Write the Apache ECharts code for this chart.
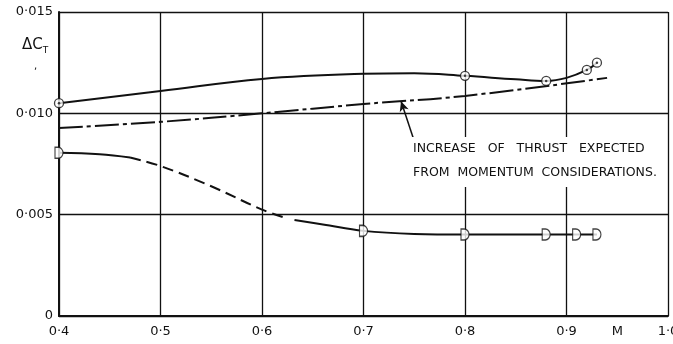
<!DOCTYPE html>
<html>
<head>
<meta charset="utf-8">
<script src="https://cdn.jsdelivr.net/npm/echarts@6/dist/echarts.min.js"></script>
<style>
html, body { margin: 0; padding: 0; background: #fff; }
#chart { width: 673px; height: 344px; }
</style>
</head>
<body>
<div id="chart"></div>
<script>
// measured thrust increment, upper curve (circles)
var upperCurve = [[0.4, 0.0105], [0.5, 0.0111], [0.6, 0.0117], [0.7, 0.01195], [0.75, 0.01198],
    [0.8, 0.01185], [0.85, 0.01168], [0.88, 0.0116], [0.9, 0.01175], [0.92, 0.01214], [0.93, 0.0125]];
var upperPoints = [[0.4, 0.0105], [0.8, 0.01185], [0.88, 0.0116], [0.92, 0.01214], [0.93, 0.0125]];

// momentum estimate (dash-dot)
var momentumLine = [[0.4, 0.00928], [0.5, 0.00958], [0.6, 0.0100], [0.7, 0.01046], [0.8, 0.01086], [0.94, 0.01175]];

// lower curve (D markers), solid / dashed / solid
var lowerA = [[0.4, 0.00805], [0.44, 0.00798], [0.47, 0.00782]];
var lowerB = [[0.47, 0.00782], [0.5, 0.0074], [0.55, 0.0064], [0.6, 0.00525], [0.623, 0.00484]];
var lowerC = [[0.632, 0.00474], [0.66, 0.00452], [0.7, 0.0042], [0.75, 0.00405], [0.8, 0.00402], [0.93, 0.00402]];
var lowerPoints = [[0.4, 0.00805], [0.7, 0.0042], [0.8, 0.00402], [0.88, 0.00402], [0.91, 0.00402], [0.93, 0.00402]];

var yTicks = [0, 0.005, 0.010, 0.015];
var xTicks = [0.4, 0.5, 0.6, 0.7, 0.8, 0.9, 1.0];

var ink = '#111';
var font = 'DejaVu Sans';
var dShape = 'path://M0,0 L4,0 A6,6 0 0 1 4,12 L0,12 Z';

var myChart = echarts.init(document.getElementById('chart'));

function lineSeries(data, type) {
    return {
        type: 'line',
        data: data,
        smooth: 0.4,
        showSymbol: false,
        silent: true,
        lineStyle: { color: ink, width: 2, type: type || 'solid' },
        z: 3
    };
}

var option = {
    animation: false,
    backgroundColor: '#fff',
    grid: { left: 59, right: 5, top: 12, bottom: 28, containLabel: false, outerBoundsMode: 'none' },
    xAxis: [{
        type: 'value',
        min: 0.4,
        max: 1.0,
        interval: 0.1,
        axisLine: { show: true, lineStyle: { color: ink, width: 2 } },
        axisTick: { show: false },
        splitLine: { show: true, lineStyle: { color: ink, width: 1.3 } },
        axisLabel: {
            margin: 9,
            color: ink,
            fontFamily: font,
            fontSize: 13,
            formatter: function (v) {
                for (var i = 0; i < xTicks.length; i++) {
                    if (Math.abs(v - xTicks[i]) < 1e-6) return xTicks[i].toFixed(1).replace('.', '·');
                }
                return '';
            }
        }
    }, {
        type: 'value',
        position: 'bottom',
        min: 0.4,
        max: 1.0,
        interval: 0.05,
        axisLine: { show: false },
        axisTick: { show: false },
        splitLine: { show: false },
        axisLabel: {
            margin: 9,
            color: ink,
            fontFamily: font,
            fontSize: 13,
            formatter: function (v) {
                return Math.abs(v - 0.95) < 1e-6 ? 'M' : '';
            }
        }
    }],
    yAxis: {
        type: 'value',
        min: 0,
        max: 0.015,
        interval: 0.005,
        axisLine: { show: true, lineStyle: { color: ink, width: 2 } },
        axisTick: { show: false },
        splitLine: { show: true, lineStyle: { color: ink, width: 1.3 } },
        axisLabel: {
            margin: 6,
            color: ink,
            fontFamily: font,
            fontSize: 13,
            formatter: function (v) {
                for (var i = 0; i < yTicks.length; i++) {
                    if (Math.abs(v - yTicks[i]) < 1e-9) {
                        return yTicks[i] === 0 ? '0' : yTicks[i].toFixed(3).replace('.', '·');
                    }
                }
                return '';
            }
        }
    },
    series: [
        lineSeries(upperCurve),
        lineSeries(momentumLine, [24, 4, 4, 4]),
        lineSeries(lowerA),
        lineSeries(lowerB, [11, 6]),
        lineSeries(lowerC),
        {
            type: 'scatter',
            data: upperPoints,
            symbol: 'circle',
            symbolSize: 9,
            silent: true,
            itemStyle: { color: '#fff', borderColor: ink, borderWidth: 1.3 },
            z: 5
        },
        {
            type: 'scatter',
            data: upperPoints,
            symbol: 'circle',
            symbolSize: 2.5,
            silent: true,
            itemStyle: { color: ink },
            z: 6
        },
        {
            type: 'scatter',
            data: lowerPoints,
            symbol: dShape,
            symbolSize: [8, 11],
            silent: true,
            itemStyle: { color: '#fff', borderColor: ink, borderWidth: 1.3 },
            z: 5
        },
        {
            // arrow from the note to the momentum line
            type: 'line',
            data: [],
            silent: true,
            markLine: {
                silent: true,
                symbol: ['none', 'arrow'],
                symbolSize: [7, 10],
                label: { show: false },
                lineStyle: { color: ink, width: 1.5, type: 'solid' },
                data: [[{ coord: [0.749, 0.00878] }, { coord: [0.737, 0.0106] }]]
            },
            z: 8
        }
    ],
    graphic: [
        {
            type: 'text',
            left: 409,
            top: 137,
            z: 7,
            style: {
                text: 'INCREASE   OF   THRUST   EXPECTED\nFROM  MOMENTUM  CONSIDERATIONS.',
                fontFamily: font,
                fontSize: 12.5,
                lineHeight: 24,
                fill: ink,
                backgroundColor: '#fff',
                padding: [0, 4, 2, 4]
            }
        },
        {
            type: 'text',
            left: 22,
            top: 38,
            style: {
                text: '{a|ΔC}{b|T}\n{c|,}',
                fill: ink,
                rich: {
                    a: { fontFamily: font, fontSize: 15, fill: ink, verticalAlign: 'top' },
                    b: { fontFamily: font, fontSize: 9, fill: ink, verticalAlign: 'bottom', padding: [8, 0, 0, 0] },
                    c: { fontFamily: font, fontSize: 10, fill: ink, padding: [6, 0, 0, 12] }
                }
            }
        }
    ]
};

myChart.setOption(option);
</script>
</body>
</html>
